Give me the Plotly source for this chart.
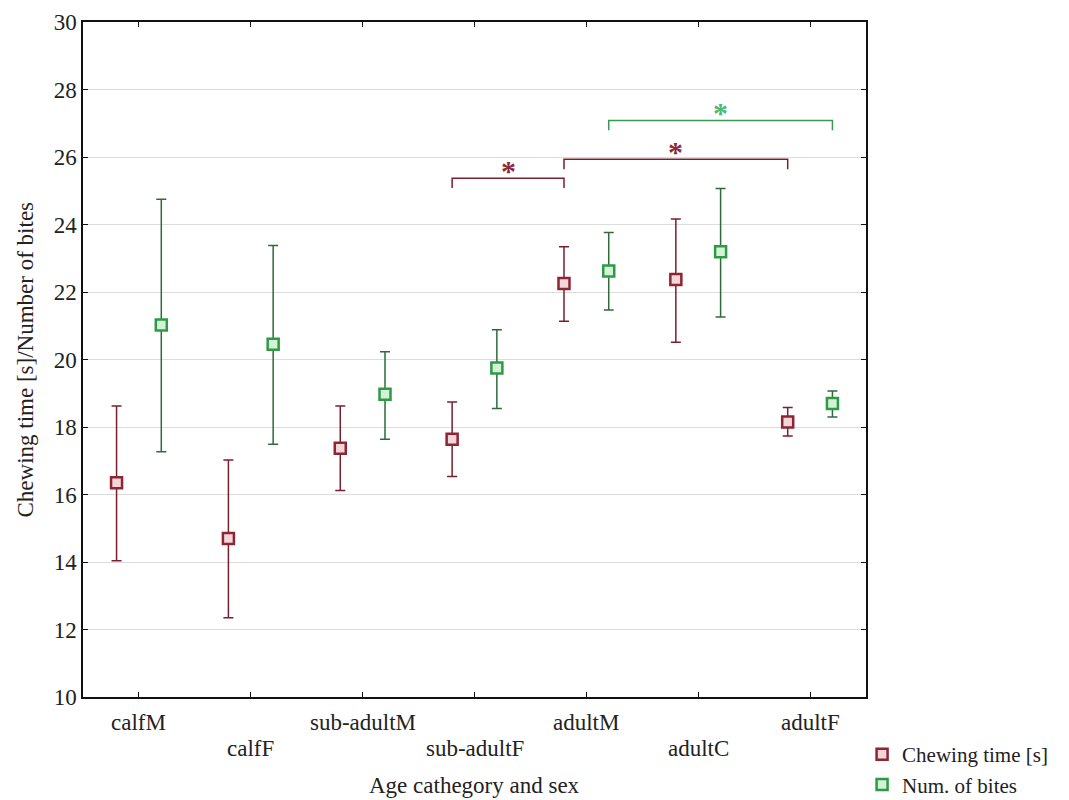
import plotly.graph_objects as go

categories = ["calfM", "calfF", "sub-adultM", "sub-adultF", "adultM", "adultC", "adultF"]

chew_mean = [16.35, 14.70, 17.37, 17.64, 22.25, 22.37, 18.15]
chew_upper = [18.62, 17.02, 18.62, 18.74, 23.34, 24.16, 18.58]
chew_lower = [14.04, 12.35, 16.12, 16.53, 21.13, 20.51, 17.73]

bites_mean = [21.02, 20.45, 18.97, 19.75, 22.62, 23.19, 18.70]
bites_upper = [24.75, 23.38, 20.23, 20.88, 23.76, 25.07, 19.07]
bites_lower = [17.27, 17.49, 17.64, 18.55, 21.47, 21.26, 18.30]

# significance brackets: (series, from category, to category, bracket level)
brackets = [
    ("chew", "sub-adultF", "adultM", 25.37),
    ("chew", "adultM", "adultF", 25.93),
    ("bites", "adultM", "adultF", 27.08),
]

RED = "#7a1f2e"
RED_M = "#8e2533"
GREEN = "#2e6b3a"
GREEN_M = "#2f9a45"
STAR_RED = "#8b2a3c"
STAR_GREEN = "#4cb872"
OFF = 0.2
FONT = "Liberation Serif, Times New Roman, serif"
FS = 23

idx = list(range(len(categories)))
fig = go.Figure()


def add_series(name, mean, up, lo, off, line_col, mk_col, fill):
    fig.add_trace(go.Scatter(
        x=[i + off for i in idx], y=mean, mode="markers", name=name,
        marker=dict(symbol="square", size=11, color=fill,
                    line=dict(color=mk_col, width=2.5)),
        error_y=dict(type="data", symmetric=False,
                     array=[u - m for u, m in zip(up, mean)],
                     arrayminus=[m - l for m, l in zip(mean, lo)],
                     color=line_col, thickness=1.5, width=5),
    ))


add_series("Chewing time [s]", chew_mean, chew_upper, chew_lower, -OFF, RED, RED_M, "#f3d6da")
add_series("Num. of bites", bites_mean, bites_upper, bites_lower, OFF, GREEN, GREEN_M, "#d4f2d8")

shapes = []
annotations = []
for series, c1, c2, level in brackets:
    off = -OFF if series == "chew" else OFF
    col = RED if series == "chew" else "#3a9a55"
    scol = STAR_RED if series == "chew" else STAR_GREEN
    x1 = categories.index(c1) + off
    x2 = categories.index(c2) + off
    drop = 0.29
    shapes.append(dict(type="path", xref="x", yref="y",
                       path=f"M {x1} {level-drop} L {x1} {level} L {x2} {level} L {x2} {level-drop}",
                       line=dict(color=col, width=1.5)))
    annotations.append(dict(x=(x1 + x2) / 2, y=level, xref="x", yref="y", text="<b>*</b>",
                            showarrow=False, yanchor="middle", yshift=8,
                            font=dict(family=FONT, size=30, color=scol)))

# staggered category labels
for i, c in enumerate(categories):
    annotations.append(dict(x=i, y=0, xref="x", yref="paper", text=c, showarrow=False,
                            yanchor="middle", yshift=-25 if i % 2 == 0 else -51,
                            font=dict(family=FONT, size=FS, color="#222")))

annotations.append(dict(x=0.5, y=0, xref="paper", yref="paper", text="Age cathegory and sex",
                        showarrow=False, yanchor="middle", yshift=-88,
                        font=dict(family=FONT, size=FS, color="#222")))

annotations.append(dict(x=0, y=0.5, xref="paper", yref="paper",
                        text="Chewing time [s]/Number of bites", textangle=-90,
                        showarrow=False, xanchor="center", yanchor="middle", xshift=-58,
                        font=dict(family=FONT, size=FS, color="#222")))

# the page body adds an 8 px margin, so the figure is 8 px smaller and shifted
fig.update_layout(
    width=1061, height=792,
    margin=dict(l=75, r=203, t=14, b=103, autoexpand=False),
    paper_bgcolor="white", plot_bgcolor="white",
    font=dict(family=FONT, size=FS, color="#222"),
    showlegend=True,
    legend=dict(x=0.995, y=-0.055, xanchor="left", yanchor="top",
                font=dict(family=FONT, size=21, color="#222"),
                itemwidth=30, tracegroupgap=0, bgcolor="rgba(0,0,0,0)"),
    shapes=shapes, annotations=annotations,
    xaxis=dict(range=[-0.5, 6.5], tickvals=idx, ticktext=[""] * len(idx), automargin=False,
               showgrid=False, zeroline=False, showline=True, linecolor="#111", linewidth=1.5,
               mirror="ticks", ticks="inside", ticklen=5, tickcolor="#111"),
    yaxis=dict(range=[10, 30], dtick=2, showgrid=True, gridcolor="#dcdcdc", gridwidth=1,
               automargin=False,
               zeroline=False, showline=True, linecolor="#111", linewidth=1.5,
               mirror="ticks", ticks="inside", ticklen=5, tickcolor="#111",
               tickfont=dict(family=FONT, size=FS)),
)

fig.write_html("out.html")
